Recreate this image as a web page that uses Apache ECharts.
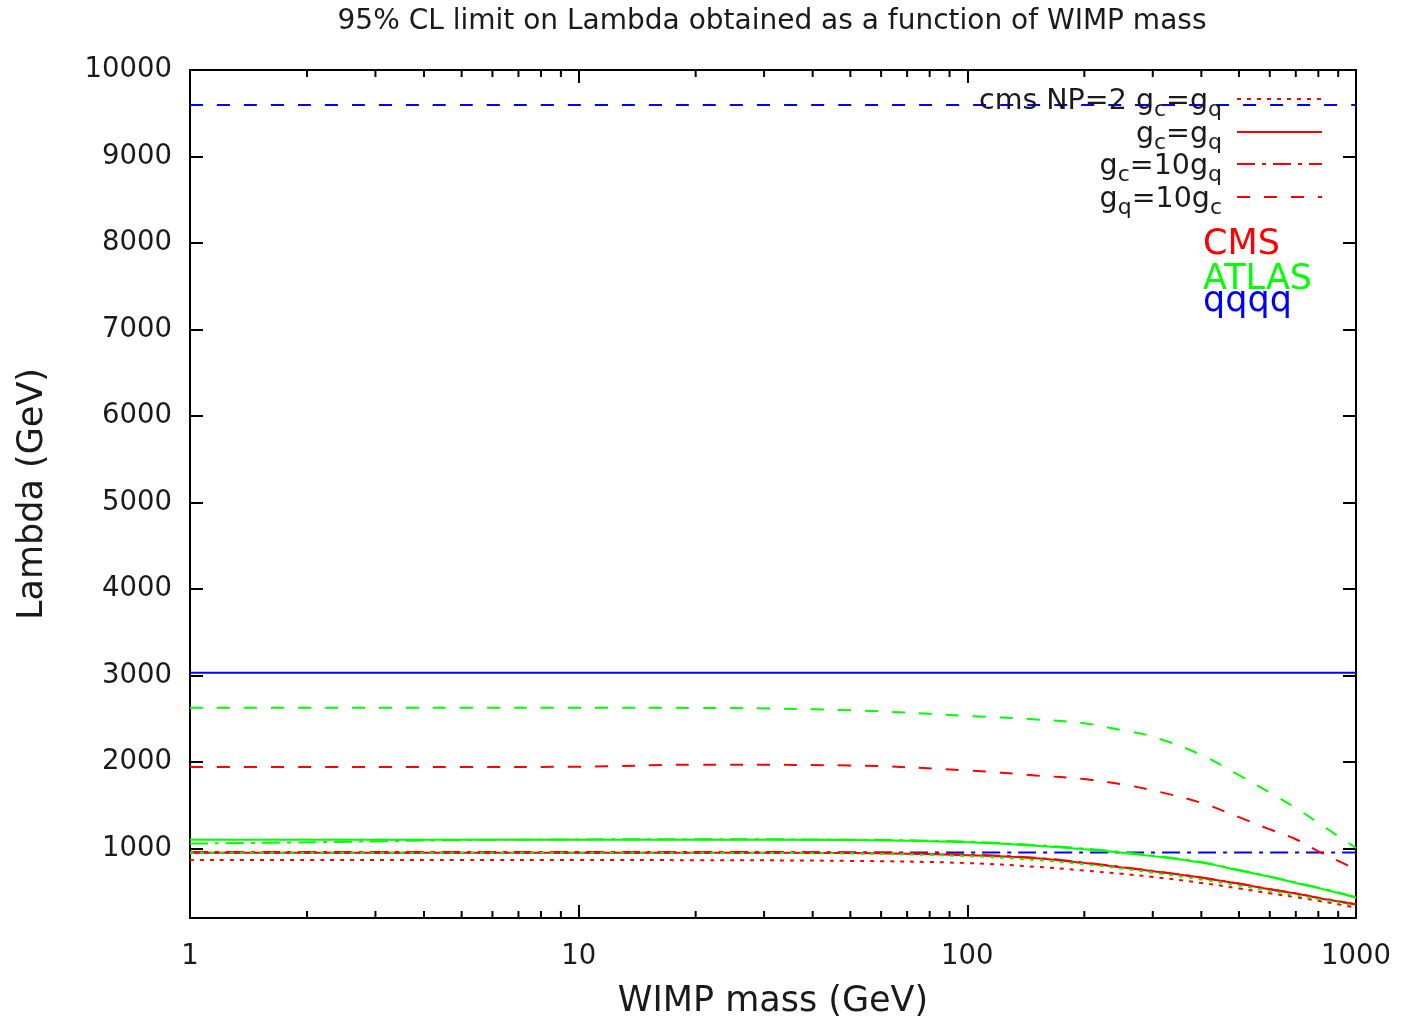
<!DOCTYPE html>
<html>
<head>
<meta charset="utf-8">
<script src="https://cdn.jsdelivr.net/npm/echarts@6/dist/echarts.min.js"></script>
<style>
  html, body { margin: 0; padding: 0; background: #fff; }
  #chart { width: 1402px; height: 1020px; }
</style>
</head>
<body>
<div id="chart"></div>
<script>
// WIMP mass points (GeV) shared by the curves
var mass = [1, 2, 5, 10, 20, 50, 100, 150, 200, 250, 300, 400, 500, 600, 700, 800, 900, 1000];
var flatMass = [1, 1000];

// CMS (red)
var cmsNp2 = [870, 870, 870, 870, 868, 860, 835, 792, 748, 710, 675, 605, 542, 485, 440, 398, 358, 320];
var cmsEq  = [955, 955, 955, 955, 955, 950, 925, 890, 835, 785, 740, 665, 595, 532, 482, 432, 392, 355];
var cmsC10 = [962, 962, 962, 962, 962, 958, 932, 895, 840, 790, 744, 668, 598, 535, 485, 435, 395, 358];
var cmsQ10 = [1945, 1945, 1945, 1948, 1972, 1962, 1905, 1848, 1805, 1745, 1675, 1530, 1365, 1225, 1110, 970, 860, 760];

// ATLAS (green)
var atlasNp2 = [955, 955, 955, 955, 953, 945, 915, 870, 822, 772, 725, 645, 575, 515, 462, 418, 378, 340];
var atlasEq  = [1105, 1105, 1105, 1105, 1105, 1100, 1075, 1035, 995, 955, 915, 840, 750, 675, 605, 545, 490, 435];
var atlasC10 = [1060, 1075, 1100, 1108, 1110, 1105, 1082, 1042, 1002, 962, 922, 846, 756, 681, 611, 551, 496, 441];
var atlasQ10 = [2630, 2630, 2630, 2630, 2628, 2600, 2535, 2495, 2450, 2370, 2295, 2085, 1850, 1650, 1470, 1300, 1145, 1010];

// qqqq (blue), flat over the whole mass range
var qqqqEq  = [3035, 3035];
var qqqqC10 = [958, 958];
var qqqqQ10 = [9595, 9595];

var yTicks = [1000, 2000, 3000, 4000, 5000, 6000, 7000, 8000, 9000, 10000];
var xMinorTicks = [2, 3, 4, 5, 6, 7, 8, 9, 20, 30, 40, 50, 60, 70, 80, 90, 200, 300, 400, 500, 600, 700, 800, 900];

var keyLabels = [
  '{m|cms NP=2 g}{s|c}{m|=g}{s|q}',
  '{m|g}{s|c}{m|=g}{s|q}',
  '{m|g}{s|c}{m|=10g}{s|q}',
  '{m|g}{s|q}{m|=10g}{s|c}'
];
var groupLabels = ['CMS', 'ATLAS', 'qqqq'];

var FONT = 'DejaVu Sans';
var TXT = '#1a1a1a';
var RED = '#ff0000', GREEN = '#00ff00', BLUE = '#0000ff';
var DOT = [4, 6], DASHDOT = [18, 7, 4, 7], DASH = [13, 14];

var chart = echarts.init(document.getElementById('chart'));

function curve(name, xs, values, color, dash) {
  return {
    name: name,
    type: 'line',
    data: xs.map(function (m, i) { return [m, values[i]]; }),
    symbol: 'none',
    smooth: 0.4,
    silent: true,
    lineStyle: { color: color, width: 2, type: dash }
  };
}

var sideAxis = {
  axisLine: { show: true, onZero: false, lineStyle: { color: '#000', width: 2 } },
  axisTick: { show: true, inside: true, length: 13, lineStyle: { color: '#000', width: 2 } },
  splitLine: { show: false }
};

var graphics = [];
var keyY = [99, 132, 164, 197];
var keyDash = [DOT, 'solid', DASHDOT, DASH];
keyLabels.forEach(function (t, i) {
  graphics.push({
    type: 'text', x: 1222, y: keyY[i] - 12, z: 10,
    style: {
      text: t, fill: TXT, align: 'right', verticalAlign: 'top',
      rich: {
        m: { fontFamily: FONT, fontSize: 28.5, lineHeight: 32, verticalAlign: 'top' },
        s: { fontFamily: FONT, fontSize: 22, lineHeight: 22, padding: [12, 0, 0, 0], verticalAlign: 'top' }
      }
    }
  });
  graphics.push({
    type: 'line', z: 10,
    shape: { x1: 1237, y1: keyY[i], x2: 1322, y2: keyY[i] },
    style: { stroke: RED, lineWidth: 2, lineDash: keyDash[i] === 'solid' ? null : keyDash[i] }
  });
});
var groupY = [245, 280, 302];
var groupColor = [RED, GREEN, BLUE];
groupLabels.forEach(function (t, i) {
  graphics.push({
    type: 'text', x: 1203, y: groupY[i], z: 10,
    style: { text: t, fill: groupColor[i], fontFamily: FONT, fontSize: 35, verticalAlign: 'middle' }
  });
});

var option = {
  animation: false,
  backgroundColor: '#fff',
  title: {
    text: '95% CL limit on Lambda obtained as a function of WIMP mass',
    left: 772, top: 8, textAlign: 'center', padding: 0,
    textStyle: { fontFamily: FONT, fontSize: 28, fontWeight: 'normal', color: TXT }
  },
  grid: { left: 190, right: 46, top: 70, bottom: 102, outerBoundsMode: 'none', containLabel: false },
  xAxis: [
    Object.assign({}, sideAxis, {
      type: 'log', logBase: 10, min: 1, max: 1000, position: 'bottom',
      name: 'WIMP mass (GeV)', nameLocation: 'middle', nameGap: 66,
      nameTextStyle: { fontFamily: FONT, fontSize: 35, color: TXT },
      axisLabel: {
        margin: 25, fontFamily: FONT, fontSize: 27.5, color: TXT,
        formatter: function (v) { return String(Math.round(v)); }
      }
    }),
    Object.assign({}, sideAxis, {
      type: 'log', logBase: 10, min: 1, max: 1000, position: 'top',
      axisLabel: { show: false }
    })
  ],
  yAxis: [
    Object.assign({}, sideAxis, {
      type: 'value', min: 200, max: 10000, position: 'left',
      name: 'Lambda (GeV)', nameLocation: 'middle', nameGap: 140,
      nameTextStyle: { fontFamily: FONT, fontSize: 35, color: TXT },
      axisTick: { show: true, inside: true, length: 13, customValues: yTicks, lineStyle: { color: '#000', width: 2 } },
      axisLabel: {
        margin: 18, fontFamily: FONT, fontSize: 27.5, color: TXT, customValues: yTicks,
        formatter: function (v) { return String(v); }
      }
    }),
    Object.assign({}, sideAxis, {
      type: 'value', min: 200, max: 10000, position: 'right',
      axisTick: { show: true, inside: true, length: 13, customValues: yTicks, lineStyle: { color: '#000', width: 2 } },
      axisLabel: { show: false }
    })
  ],
  graphic: graphics,
  series: [
    curve('qqqq gc=10gq', flatMass, qqqqC10, BLUE, DASHDOT),
    curve('cms NP=2 gc=gq', mass, cmsNp2, RED, DOT),
    curve('gc=gq', mass, cmsEq, RED, 'solid'),
    curve('gc=10gq', mass, cmsC10, RED, DASHDOT),
    curve('gq=10gc', mass, cmsQ10, RED, DASH),
    curve('ATLAS NP=2 gc=gq', mass, atlasNp2, GREEN, DOT),
    curve('ATLAS gc=gq', mass, atlasEq, GREEN, 'solid'),
    curve('ATLAS gc=10gq', mass, atlasC10, GREEN, DASHDOT),
    curve('ATLAS gq=10gc', mass, atlasQ10, GREEN, DASH),
    curve('qqqq gc=gq', flatMass, qqqqEq, BLUE, 'solid'),
    curve('qqqq gq=10gc', flatMass, qqqqQ10, BLUE, DASH),
    {
      // minor log ticks on bottom and top edges
      type: 'custom',
      silent: true,
      clip: false,
      data: xMinorTicks.map(function (v) { return [v, 10000]; }),
      renderItem: function (params, api) {
        var x = api.coord([api.value(0), api.value(1)])[0];
        var cs = params.coordSys;
        var st = { stroke: '#000', lineWidth: 2 };
        return {
          type: 'group',
          children: [
            { type: 'line', shape: { x1: x, y1: cs.y + cs.height, x2: x, y2: cs.y + cs.height - 7 }, style: st },
            { type: 'line', shape: { x1: x, y1: cs.y, x2: x, y2: cs.y + 7 }, style: st }
          ]
        };
      }
    }
  ]
};

chart.setOption(option);
</script>
</body>
</html>
